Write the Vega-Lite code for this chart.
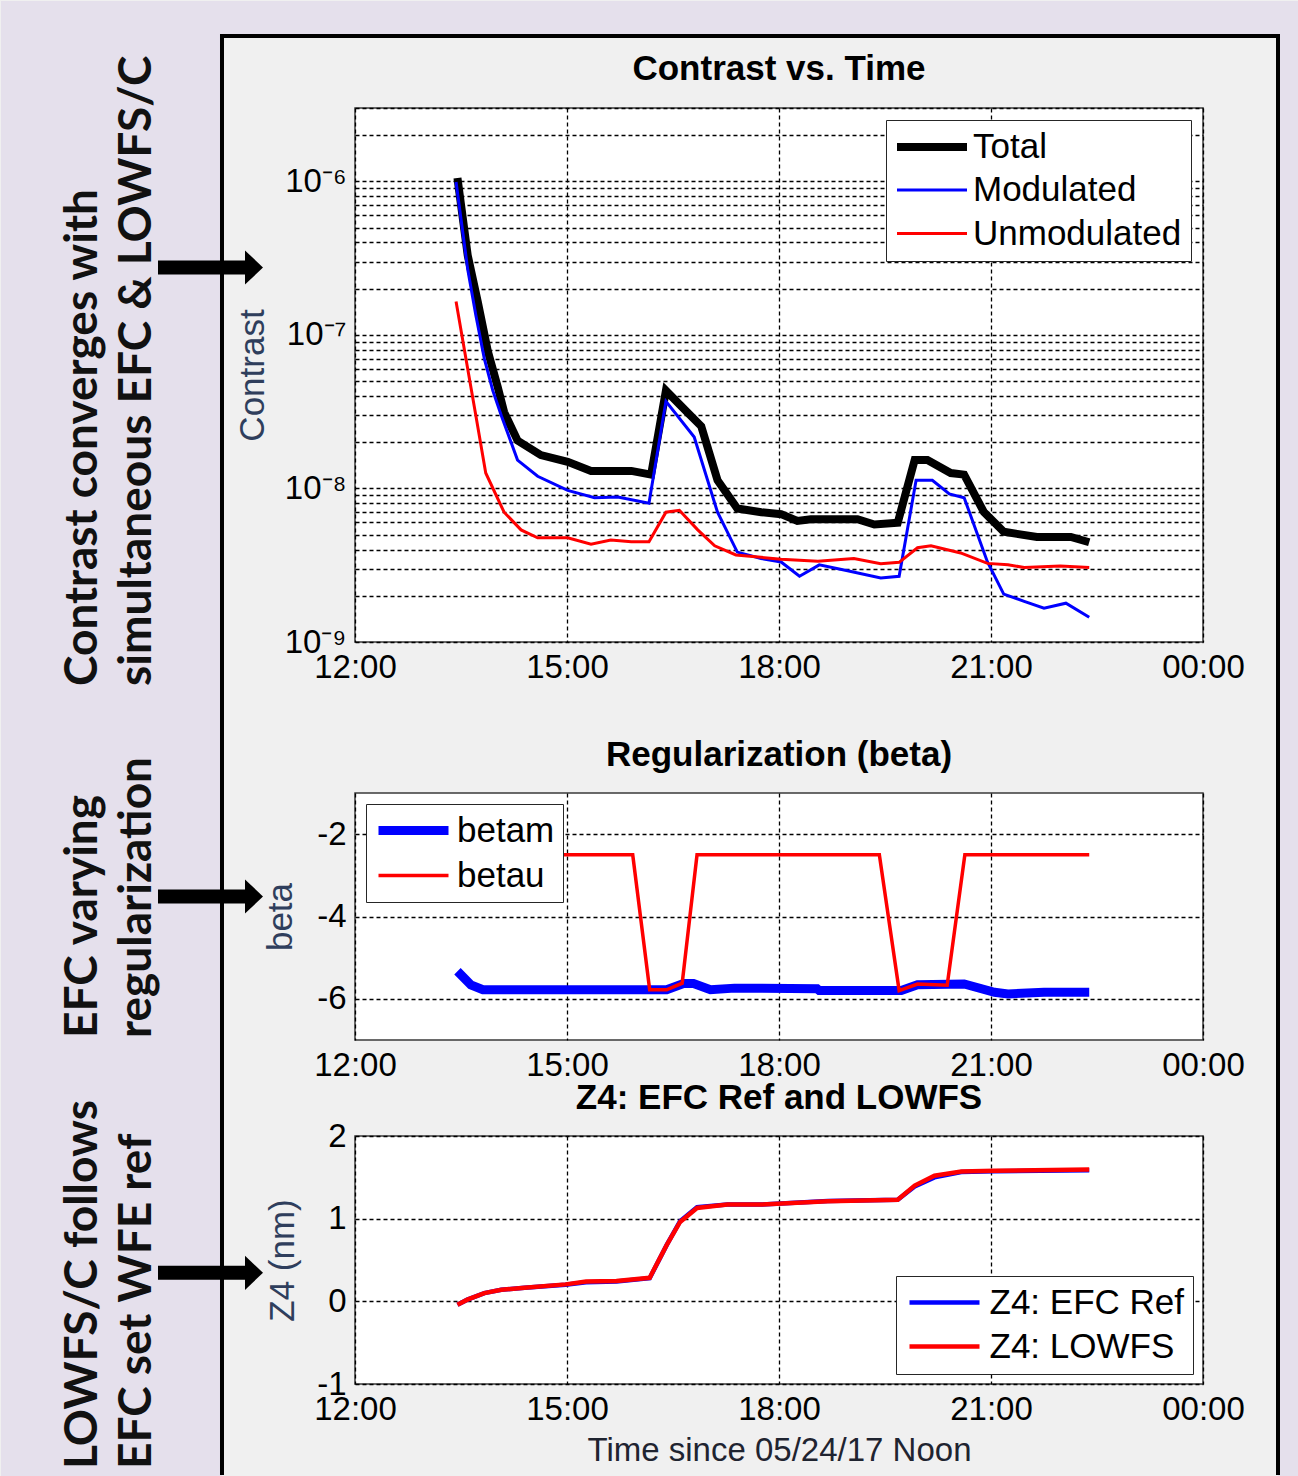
{
  "$schema": "https://vega.github.io/schema/vega-lite/v6.json",
  "background": "#F0F0F0",
  "padding": 0,
  "autosize": {"type": "pad"},
  "bounds": "flush",
  "spacing": 151,
  "resolve": {"scale": {"color": "independent", "strokeWidth": "independent"}, "legend": {"color": "independent", "strokeWidth": "independent"}},
  "config": {
    "font": "Liberation Sans",
    "view": {"fill": "#FFFFFF", "stroke": "#3a3a3a", "strokeWidth": 1.5},
    "axis": {
      "labelFont": "Liberation Sans", "labelFontSize": 33, "labelColor": "#000000", "labelPadding": 9,
      "labelFlush": false, "labelOverlap": false, "labelBound": false,
      "ticks": false, "domain": false,
      "grid": true, "gridColor": "#000000", "gridOpacity": 1, "gridDash": [4, 3], "gridWidth": 1.3,
      "titleFont": "Liberation Sans", "titleFontSize": 35, "titleFontWeight": "normal", "titleColor": "#2f3e5c", "titlePadding": 16
    }
  },
  "datasets": {
    "contrast": [
      {"h": 13.45, "v": 1.05e-6, "s": "Total"},
      {"h": 13.595, "v": 3.3e-7, "s": "Total"},
      {"h": 13.736, "v": 1.65e-7, "s": "Total"},
      {"h": 13.88, "v": 7.8e-8, "s": "Total"},
      {"h": 14.02, "v": 4.57e-8, "s": "Total"},
      {"h": 14.11, "v": 3.14e-8, "s": "Total"},
      {"h": 14.3, "v": 2.05e-8, "s": "Total"},
      {"h": 14.63, "v": 1.65e-8, "s": "Total"},
      {"h": 15.01, "v": 1.49e-8, "s": "Total"},
      {"h": 15.34, "v": 1.3e-8, "s": "Total"},
      {"h": 15.91, "v": 1.3e-8, "s": "Total"},
      {"h": 16.19, "v": 1.23e-8, "s": "Total"},
      {"h": 16.4, "v": 4.33e-8, "s": "Total"},
      {"h": 16.7, "v": 3.14e-8, "s": "Total"},
      {"h": 16.9, "v": 2.54e-8, "s": "Total"},
      {"h": 17.13, "v": 1.13e-8, "s": "Total"},
      {"h": 17.41, "v": 7.4e-9, "s": "Total"},
      {"h": 17.75, "v": 7.0e-9, "s": "Total"},
      {"h": 18.03, "v": 6.8e-9, "s": "Total"},
      {"h": 18.26, "v": 6.14e-9, "s": "Total"},
      {"h": 18.45, "v": 6.3e-9, "s": "Total"},
      {"h": 19.11, "v": 6.3e-9, "s": "Total"},
      {"h": 19.35, "v": 5.82e-9, "s": "Total"},
      {"h": 19.68, "v": 5.98e-9, "s": "Total"},
      {"h": 19.92, "v": 1.53e-8, "s": "Total"},
      {"h": 20.1, "v": 1.53e-8, "s": "Total"},
      {"h": 20.43, "v": 1.26e-8, "s": "Total"},
      {"h": 20.62, "v": 1.23e-8, "s": "Total"},
      {"h": 20.9, "v": 7.0e-9, "s": "Total"},
      {"h": 21.18, "v": 5.22e-9, "s": "Total"},
      {"h": 21.65, "v": 4.83e-9, "s": "Total"},
      {"h": 22.13, "v": 4.83e-9, "s": "Total"},
      {"h": 22.39, "v": 4.46e-9, "s": "Total"},
      {"h": 13.43, "v": 9.9e-7, "s": "Modulated"},
      {"h": 13.595, "v": 2.67e-7, "s": "Modulated"},
      {"h": 13.71, "v": 1.34e-7, "s": "Modulated"},
      {"h": 13.83, "v": 7.0e-8, "s": "Modulated"},
      {"h": 13.95, "v": 4.33e-8, "s": "Modulated"},
      {"h": 14.07, "v": 2.98e-8, "s": "Modulated"},
      {"h": 14.3, "v": 1.53e-8, "s": "Modulated"},
      {"h": 14.585, "v": 1.2e-8, "s": "Modulated"},
      {"h": 15.01, "v": 9.7e-9, "s": "Modulated"},
      {"h": 15.39, "v": 8.7e-9, "s": "Modulated"},
      {"h": 15.72, "v": 8.8e-9, "s": "Modulated"},
      {"h": 16.16, "v": 8.0e-9, "s": "Modulated"},
      {"h": 16.4, "v": 3.69e-8, "s": "Modulated"},
      {"h": 16.8, "v": 2.16e-8, "s": "Modulated"},
      {"h": 17.13, "v": 7.0e-9, "s": "Modulated"},
      {"h": 17.41, "v": 3.85e-9, "s": "Modulated"},
      {"h": 17.745, "v": 3.5e-9, "s": "Modulated"},
      {"h": 18.03, "v": 3.32e-9, "s": "Modulated"},
      {"h": 18.29, "v": 2.68e-9, "s": "Modulated"},
      {"h": 18.57, "v": 3.18e-9, "s": "Modulated"},
      {"h": 18.97, "v": 2.91e-9, "s": "Modulated"},
      {"h": 19.44, "v": 2.61e-9, "s": "Modulated"},
      {"h": 19.7, "v": 2.68e-9, "s": "Modulated"},
      {"h": 19.94, "v": 1.13e-8, "s": "Modulated"},
      {"h": 20.17, "v": 1.13e-8, "s": "Modulated"},
      {"h": 20.41, "v": 9.2e-9, "s": "Modulated"},
      {"h": 20.62, "v": 8.7e-9, "s": "Modulated"},
      {"h": 20.95, "v": 3.32e-9, "s": "Modulated"},
      {"h": 21.18, "v": 2.05e-9, "s": "Modulated"},
      {"h": 21.47, "v": 1.84e-9, "s": "Modulated"},
      {"h": 21.75, "v": 1.66e-9, "s": "Modulated"},
      {"h": 22.06, "v": 1.79e-9, "s": "Modulated"},
      {"h": 22.39, "v": 1.45e-9, "s": "Modulated"},
      {"h": 13.43, "v": 1.65e-7, "s": "Unmodulated"},
      {"h": 13.57, "v": 7.0e-8, "s": "Unmodulated"},
      {"h": 13.71, "v": 2.98e-8, "s": "Unmodulated"},
      {"h": 13.85, "v": 1.26e-8, "s": "Unmodulated"},
      {"h": 14.11, "v": 7.0e-9, "s": "Unmodulated"},
      {"h": 14.35, "v": 5.37e-9, "s": "Unmodulated"},
      {"h": 14.585, "v": 4.77e-9, "s": "Unmodulated"},
      {"h": 15.01, "v": 4.77e-9, "s": "Unmodulated"},
      {"h": 15.34, "v": 4.33e-9, "s": "Unmodulated"},
      {"h": 15.62, "v": 4.62e-9, "s": "Unmodulated"},
      {"h": 15.91, "v": 4.5e-9, "s": "Unmodulated"},
      {"h": 16.16, "v": 4.5e-9, "s": "Unmodulated"},
      {"h": 16.4, "v": 7.0e-9, "s": "Unmodulated"},
      {"h": 16.59, "v": 7.2e-9, "s": "Unmodulated"},
      {"h": 16.85, "v": 5.37e-9, "s": "Unmodulated"},
      {"h": 17.09, "v": 4.23e-9, "s": "Unmodulated"},
      {"h": 17.39, "v": 3.69e-9, "s": "Unmodulated"},
      {"h": 18.03, "v": 3.46e-9, "s": "Unmodulated"},
      {"h": 18.55, "v": 3.35e-9, "s": "Unmodulated"},
      {"h": 19.06, "v": 3.5e-9, "s": "Unmodulated"},
      {"h": 19.44, "v": 3.23e-9, "s": "Unmodulated"},
      {"h": 19.7, "v": 3.3e-9, "s": "Unmodulated"},
      {"h": 19.96, "v": 4.11e-9, "s": "Unmodulated"},
      {"h": 20.15, "v": 4.23e-9, "s": "Unmodulated"},
      {"h": 20.57, "v": 3.8e-9, "s": "Unmodulated"},
      {"h": 20.95, "v": 3.25e-9, "s": "Unmodulated"},
      {"h": 21.24, "v": 3.18e-9, "s": "Unmodulated"},
      {"h": 21.47, "v": 3.06e-9, "s": "Unmodulated"},
      {"h": 21.98, "v": 3.12e-9, "s": "Unmodulated"},
      {"h": 22.39, "v": 3.06e-9, "s": "Unmodulated"}
    ],
    "beta": [
      {"h": 13.45, "b": -5.33, "s": "betam"},
      {"h": 13.64, "b": -5.66, "s": "betam"},
      {"h": 13.81, "b": -5.78, "s": "betam"},
      {"h": 16.41, "b": -5.78, "s": "betam"},
      {"h": 16.65, "b": -5.63, "s": "betam"},
      {"h": 16.79, "b": -5.63, "s": "betam"},
      {"h": 17.03, "b": -5.78, "s": "betam"},
      {"h": 17.37, "b": -5.74, "s": "betam"},
      {"h": 18.54, "b": -5.755, "s": "betam"},
      {"h": 18.57, "b": -5.8, "s": "betam"},
      {"h": 19.73, "b": -5.8, "s": "betam"},
      {"h": 19.96, "b": -5.66, "s": "betam"},
      {"h": 20.62, "b": -5.64, "s": "betam"},
      {"h": 21.05, "b": -5.84, "s": "betam"},
      {"h": 21.24, "b": -5.88, "s": "betam"},
      {"h": 21.75, "b": -5.84, "s": "betam"},
      {"h": 22.39, "b": -5.84, "s": "betam"},
      {"h": 13.45, "b": -2.5, "s": "betau"},
      {"h": 15.93, "b": -2.5, "s": "betau"},
      {"h": 16.17, "b": -5.78, "s": "betau"},
      {"h": 16.41, "b": -5.78, "s": "betau"},
      {"h": 16.63, "b": -5.62, "s": "betau"},
      {"h": 16.84, "b": -2.5, "s": "betau"},
      {"h": 19.42, "b": -2.5, "s": "betau"},
      {"h": 19.7, "b": -5.8, "s": "betau"},
      {"h": 19.96, "b": -5.64, "s": "betau"},
      {"h": 20.38, "b": -5.67, "s": "betau"},
      {"h": 20.63, "b": -2.5, "s": "betau"},
      {"h": 22.39, "b": -2.5, "s": "betau"}
    ],
    "z4": [
      {"h": 13.45, "z": -0.04, "s": "Z4: EFC Ref"},
      {"h": 13.59, "z": 0.02, "s": "Z4: EFC Ref"},
      {"h": 13.83, "z": 0.1, "s": "Z4: EFC Ref"},
      {"h": 14.07, "z": 0.14, "s": "Z4: EFC Ref"},
      {"h": 14.4, "z": 0.165, "s": "Z4: EFC Ref"},
      {"h": 14.98, "z": 0.2, "s": "Z4: EFC Ref"},
      {"h": 15.27, "z": 0.23, "s": "Z4: EFC Ref"},
      {"h": 15.7, "z": 0.24, "s": "Z4: EFC Ref"},
      {"h": 16.17, "z": 0.28, "s": "Z4: EFC Ref"},
      {"h": 16.41, "z": 0.68, "s": "Z4: EFC Ref"},
      {"h": 16.6, "z": 0.97, "s": "Z4: EFC Ref"},
      {"h": 16.84, "z": 1.14, "s": "Z4: EFC Ref"},
      {"h": 17.27, "z": 1.17, "s": "Z4: EFC Ref"},
      {"h": 17.74, "z": 1.17, "s": "Z4: EFC Ref"},
      {"h": 18.69, "z": 1.215, "s": "Z4: EFC Ref"},
      {"h": 19.68, "z": 1.23, "s": "Z4: EFC Ref"},
      {"h": 19.92, "z": 1.39, "s": "Z4: EFC Ref"},
      {"h": 20.2, "z": 1.5, "s": "Z4: EFC Ref"},
      {"h": 20.58, "z": 1.565, "s": "Z4: EFC Ref"},
      {"h": 21.05, "z": 1.575, "s": "Z4: EFC Ref"},
      {"h": 22.39, "z": 1.585, "s": "Z4: EFC Ref"},
      {"h": 13.45, "z": -0.04, "s": "Z4: LOWFS"},
      {"h": 13.59, "z": 0.02, "s": "Z4: LOWFS"},
      {"h": 13.83, "z": 0.1, "s": "Z4: LOWFS"},
      {"h": 14.07, "z": 0.14, "s": "Z4: LOWFS"},
      {"h": 14.4, "z": 0.165, "s": "Z4: LOWFS"},
      {"h": 14.98, "z": 0.205, "s": "Z4: LOWFS"},
      {"h": 15.27, "z": 0.24, "s": "Z4: LOWFS"},
      {"h": 15.7, "z": 0.245, "s": "Z4: LOWFS"},
      {"h": 16.17, "z": 0.285, "s": "Z4: LOWFS"},
      {"h": 16.41, "z": 0.68, "s": "Z4: LOWFS"},
      {"h": 16.6, "z": 0.96, "s": "Z4: LOWFS"},
      {"h": 16.84, "z": 1.13, "s": "Z4: LOWFS"},
      {"h": 17.27, "z": 1.17, "s": "Z4: LOWFS"},
      {"h": 17.74, "z": 1.17, "s": "Z4: LOWFS"},
      {"h": 18.69, "z": 1.21, "s": "Z4: LOWFS"},
      {"h": 19.68, "z": 1.23, "s": "Z4: LOWFS"},
      {"h": 19.92, "z": 1.4, "s": "Z4: LOWFS"},
      {"h": 20.2, "z": 1.52, "s": "Z4: LOWFS"},
      {"h": 20.58, "z": 1.57, "s": "Z4: LOWFS"},
      {"h": 21.05, "z": 1.58, "s": "Z4: LOWFS"},
      {"h": 22.39, "z": 1.595, "s": "Z4: LOWFS"}
    ]
  },
  "vconcat": [
    {
      "width": 848,
      "height": 534,
      "layer": [
        {
          "data": {"values": [{}]},
          "mark": {"type": "rect", "color": "#E5E0EC"},
          "encoding": {
            "x": {"datum": 6.9906, "type": "quantitative", "scale": {"domain": [12, 24], "nice": false, "zero": false}},
            "x2": {"datum": 10.11792},
            "y": {"datum": 1.4919e-5, "type": "quantitative", "scale": {"type": "log", "domain": [1e-9, 3e-6], "nice": false}},
            "y2": {"datum": 3.66e-15}
          }
        },
        {
          "data": {"values": [{}]},
          "mark": {"type": "rect", "color": "#E5E0EC"},
          "encoding": {
            "x": {"datum": 10.11792, "type": "quantitative", "scale": {"domain": [12, 24], "nice": false, "zero": false}},
            "x2": {"datum": 25.3584},
            "y": {"datum": 1.4919e-5, "type": "quantitative", "scale": {"type": "log", "domain": [1e-9, 3e-6], "nice": false}},
            "y2": {"datum": 8.8297e-6}
          }
        },
        {
          "data": {"values": [{}]},
          "mark": {"type": "rect", "color": "#E5E0EC"},
          "encoding": {
            "x": {"datum": 25.06132, "type": "quantitative", "scale": {"domain": [12, 24], "nice": false, "zero": false}},
            "x2": {"datum": 25.3584},
            "y": {"datum": 8.8297e-6, "type": "quantitative", "scale": {"type": "log", "domain": [1e-9, 3e-6], "nice": false}},
            "y2": {"datum": 3.66e-15}
          }
        },
        {
          "data": {"values": [{}]},
          "mark": {"type": "rule", "color": "#000000", "strokeWidth": 4, "strokeCap": "square"},
          "encoding": {
            "x": {"datum": 10.11792, "type": "quantitative", "scale": {"domain": [12, 24], "nice": false, "zero": false}},
            "y": {"datum": 8.8297e-6, "type": "quantitative", "scale": {"type": "log", "domain": [1e-9, 3e-6], "nice": false}},
            "y2": {"datum": 3.8815e-15}
          }
        },
        {
          "data": {"values": [{}]},
          "mark": {"type": "rule", "color": "#000000", "strokeWidth": 4, "strokeCap": "square"},
          "encoding": {
            "x": {"datum": 10.11792, "type": "quantitative", "scale": {"domain": [12, 24], "nice": false, "zero": false}},
            "x2": {"datum": 25.06132},
            "y": {"datum": 8.8297e-6, "type": "quantitative", "scale": {"type": "log", "domain": [1e-9, 3e-6], "nice": false}}
          }
        },
        {
          "data": {"values": [{}]},
          "mark": {"type": "rule", "color": "#000000", "strokeWidth": 4, "strokeCap": "square"},
          "encoding": {
            "x": {"datum": 25.06132, "type": "quantitative", "scale": {"domain": [12, 24], "nice": false, "zero": false}},
            "y": {"datum": 8.8297e-6, "type": "quantitative", "scale": {"type": "log", "domain": [1e-9, 3e-6], "nice": false}},
            "y2": {"datum": 3.8815e-15}
          }
        },
        {
          "data": {"values": [{}]},
          "mark": {"type": "text", "align": "center", "baseline": "alphabetic", "font": "Liberation Sans", "fontWeight": "bold", "fontSize": 35, "color": "#000000", "text": "Contrast vs. Time"},
          "encoding": {
            "x": {"datum": 18, "type": "quantitative", "scale": {"domain": [12, 24], "nice": false, "zero": false}},
            "y": {"datum": 4.5625e-6, "type": "quantitative", "scale": {"type": "log", "domain": [1e-9, 3e-6], "nice": false}}
          }
        },
        {
          "data": {"values": [{}]},
          "mark": {"type": "text", "angle": 270, "align": "left", "baseline": "alphabetic", "font": "Lato", "fontWeight": "bold", "fontSize": 46, "lineHeight": 54, "color": "#111111", "text": ["Contrast converges with", "simultaneous EFC & LOWFS/C"]},
          "encoding": {
            "x": {"datum": 8.34906, "type": "quantitative", "scale": {"domain": [12, 24], "nice": false, "zero": false}},
            "y": {"datum": 5.1705e-10, "type": "quantitative", "scale": {"type": "log", "domain": [1e-9, 3e-6], "nice": false}}
          }
        },
        {
          "data": {"values": [{}]},
          "mark": {"type": "rule", "color": "#000000", "strokeWidth": 14},
          "encoding": {
            "x": {"datum": 9.21226, "type": "quantitative", "scale": {"domain": [12, 24], "nice": false, "zero": false}},
            "x2": {"datum": 10.48585},
            "y": {"datum": 2.7452e-7, "type": "quantitative", "scale": {"type": "log", "domain": [1e-9, 3e-6], "nice": false}}
          }
        },
        {
          "data": {"values": [{}]},
          "mark": {"type": "point", "shape": "M-1,-1.9L1,0L-1,1.9Z", "filled": true, "color": "#000000", "opacity": 1, "size": 324},
          "encoding": {
            "x": {"datum": 10.57075, "type": "quantitative", "scale": {"domain": [12, 24], "nice": false, "zero": false}},
            "y": {"datum": 2.7452e-7, "type": "quantitative", "scale": {"type": "log", "domain": [1e-9, 3e-6], "nice": false}}
          }
        },
        {
          "data": {"name": "contrast"},
          "mark": {"type": "line"},
          "encoding": {
            "x": {"field": "h", "type": "quantitative", "scale": {"domain": [12, 24], "nice": false, "zero": false},
              "axis": {"values": [12, 15, 18, 21, 24], "labelExpr": "(datum.value % 24 < 10 ? '0' : '') + (datum.value % 24) + ':00'", "title": null}},
            "y": {"field": "v", "type": "quantitative", "scale": {"type": "log", "domain": [1e-9, 3e-6], "nice": false},
              "axis": {"title": "Contrast", "titlePadding": 14,
                "values": [1e-9, 2e-9, 3e-9, 4e-9, 5e-9, 6e-9, 7e-9, 8e-9, 9e-9, 1e-8, 2e-8, 3e-8, 4e-8, 5e-8, 6e-8, 7e-8, 8e-8, 9e-8, 1e-7, 2e-7, 3e-7, 4e-7, 5e-7, 6e-7, 7e-7, 8e-7, 9e-7, 1e-6, 2e-6, 3e-6],
                "labelExpr": "abs(log(datum.value)/LN10 - round(log(datum.value)/LN10)) < 0.01 ? (round(log(datum.value)/LN10) == -9 ? '10⁻⁹' : round(log(datum.value)/LN10) == -8 ? '10⁻⁸' : round(log(datum.value)/LN10) == -7 ? '10⁻⁷' : '10⁻⁶') : ''"}},
            "color": {"field": "s", "type": "nominal",
              "scale": {"domain": ["Total", "Modulated", "Unmodulated"], "range": ["#000000", "#0000FF", "#FF0000"]},
              "legend": {"orient": "top-right", "offset": 12, "title": null, "padding": 9, "rowPadding": 7.5, "symbolType": "M-1,0L4,0", "symbolSize": 784, "symbolOffset": -2, "labelOffset": 44, "labelFontSize": 35, "labelFont": "Liberation Sans", "labelColor": "#000000", "labelLimit": 400, "strokeColor": "#262626", "fillColor": "#FFFFFF"}},
            "strokeWidth": {"field": "s", "type": "nominal",
              "scale": {"type": "ordinal", "domain": ["Total", "Modulated", "Unmodulated"], "range": [8, 3, 3]},
              "legend": {"orient": "top-right", "offset": 12, "title": null, "padding": 9, "rowPadding": 7.5, "symbolType": "M-1,0L4,0", "symbolSize": 784, "symbolOffset": -2, "labelOffset": 44, "labelFontSize": 35, "labelFont": "Liberation Sans", "labelColor": "#000000", "labelLimit": 400, "strokeColor": "#262626", "fillColor": "#FFFFFF"}}
          }
        }
      ]
    },
    {
      "bounds": "flush",
      "spacing": 96,
      "resolve": {"scale": {"color": "independent", "strokeWidth": "independent"}, "legend": {"color": "independent", "strokeWidth": "independent"}},
      "vconcat": [
        {
          "width": 848,
          "height": 247,
          "layer": [
            {
              "data": {"values": [{}]},
              "mark": {"type": "text", "align": "center", "baseline": "alphabetic", "font": "Liberation Sans", "fontWeight": "bold", "fontSize": 35, "color": "#000000", "text": "Regularization (beta)"},
              "encoding": {
                "x": {"datum": 18, "type": "quantitative", "scale": {"domain": [12, 24], "nice": false, "zero": false}},
                "y": {"datum": -0.34413, "type": "quantitative", "scale": {"domain": [-7, -1], "nice": false, "zero": false}}
              }
            },
            {
              "data": {"values": [{}]},
              "mark": {"type": "text", "angle": 270, "align": "left", "baseline": "alphabetic", "font": "Lato", "fontWeight": "bold", "fontSize": 46, "lineHeight": 54, "color": "#111111", "text": ["EFC varying", "regularization"]},
              "encoding": {
                "x": {"datum": 8.34906, "type": "quantitative", "scale": {"domain": [12, 24], "nice": false, "zero": false}},
                "y": {"datum": -6.95142, "type": "quantitative", "scale": {"domain": [-7, -1], "nice": false, "zero": false}}
              }
            },
            {
              "data": {"values": [{}]},
              "mark": {"type": "rule", "color": "#000000", "strokeWidth": 14},
              "encoding": {
                "x": {"datum": 9.21226, "type": "quantitative", "scale": {"domain": [12, 24], "nice": false, "zero": false}},
                "x2": {"datum": 10.48585},
                "y": {"datum": -3.51417, "type": "quantitative", "scale": {"domain": [-7, -1], "nice": false, "zero": false}}
              }
            },
            {
              "data": {"values": [{}]},
              "mark": {"type": "point", "shape": "M-1,-1.9L1,0L-1,1.9Z", "filled": true, "color": "#000000", "opacity": 1, "size": 324},
              "encoding": {
                "x": {"datum": 10.57075, "type": "quantitative", "scale": {"domain": [12, 24], "nice": false, "zero": false}},
                "y": {"datum": -3.51417, "type": "quantitative", "scale": {"domain": [-7, -1], "nice": false, "zero": false}}
              }
            },
            {
              "data": {"name": "beta"},
              "mark": {"type": "line"},
              "encoding": {
                "x": {"field": "h", "type": "quantitative", "scale": {"domain": [12, 24], "nice": false, "zero": false},
                  "axis": {"values": [12, 15, 18, 21, 24], "labelExpr": "(datum.value % 24 < 10 ? '0' : '') + (datum.value % 24) + ':00'", "title": null}},
                "y": {"field": "b", "type": "quantitative", "scale": {"domain": [-7, -1], "nice": false, "zero": false},
                  "axis": {"title": "beta", "values": [-6, -4, -2], "labelExpr": "'' + datum.value", "titlePadding": 18}},
                "color": {"field": "s", "type": "nominal",
                  "scale": {"domain": ["betam", "betau"], "range": ["#0000FF", "#FF0000"]},
                  "legend": {"orient": "top-left", "offset": 11, "title": null, "padding": 8, "rowPadding": 9, "symbolType": "M-1,0L4,0", "symbolSize": 784, "symbolOffset": 0, "labelOffset": 46, "labelFontSize": 35, "labelFont": "Liberation Sans", "labelColor": "#000000", "labelLimit": 400, "strokeColor": "#262626", "fillColor": "#FFFFFF"}},
                "strokeWidth": {"field": "s", "type": "nominal",
                  "scale": {"type": "ordinal", "domain": ["betam", "betau"], "range": [9, 3.5]},
                  "legend": {"orient": "top-left", "offset": 11, "title": null, "padding": 8, "rowPadding": 9, "symbolType": "M-1,0L4,0", "symbolSize": 784, "symbolOffset": 0, "labelOffset": 46, "labelFontSize": 35, "labelFont": "Liberation Sans", "labelColor": "#000000", "labelLimit": 400, "strokeColor": "#262626", "fillColor": "#FFFFFF"}}
              }
            }
          ]
        },
        {
          "width": 848,
          "height": 248,
          "layer": [
            {
              "data": {"values": [{}]},
              "mark": {"type": "text", "align": "center", "baseline": "alphabetic", "font": "Liberation Sans", "fontWeight": "bold", "fontSize": 35, "color": "#000000", "text": "Z4: EFC Ref and LOWFS"},
              "encoding": {
                "x": {"datum": 18, "type": "quantitative", "scale": {"domain": [12, 24], "nice": false, "zero": false}},
                "y": {"datum": 2.32661, "type": "quantitative", "scale": {"domain": [-1, 2], "nice": false, "zero": false}}
              }
            },
            {
              "data": {"values": [{}]},
              "mark": {"type": "text", "angle": 270, "align": "left", "baseline": "alphabetic", "font": "Lato", "fontWeight": "bold", "fontSize": 46, "lineHeight": 54, "color": "#111111", "text": ["LOWFS/C follows", "EFC set WFE ref"]},
              "encoding": {
                "x": {"datum": 8.34906, "type": "quantitative", "scale": {"domain": [12, 24], "nice": false, "zero": false}},
                "y": {"datum": -2.02823, "type": "quantitative", "scale": {"domain": [-1, 2], "nice": false, "zero": false}}
              }
            },
            {
              "data": {"values": [{}]},
              "mark": {"type": "rule", "color": "#000000", "strokeWidth": 14},
              "encoding": {
                "x": {"datum": 9.21226, "type": "quantitative", "scale": {"domain": [12, 24], "nice": false, "zero": false}},
                "x2": {"datum": 10.48585},
                "y": {"datum": 0.34516, "type": "quantitative", "scale": {"domain": [-1, 2], "nice": false, "zero": false}}
              }
            },
            {
              "data": {"values": [{}]},
              "mark": {"type": "point", "shape": "M-1,-1.9L1,0L-1,1.9Z", "filled": true, "color": "#000000", "opacity": 1, "size": 324},
              "encoding": {
                "x": {"datum": 10.57075, "type": "quantitative", "scale": {"domain": [12, 24], "nice": false, "zero": false}},
                "y": {"datum": 0.34516, "type": "quantitative", "scale": {"domain": [-1, 2], "nice": false, "zero": false}}
              }
            },
            {
              "data": {"name": "z4"},
              "mark": {"type": "line"},
              "encoding": {
                "x": {"field": "h", "type": "quantitative", "scale": {"domain": [12, 24], "nice": false, "zero": false},
                  "axis": {"values": [12, 15, 18, 21, 24], "labelExpr": "(datum.value % 24 < 10 ? '0' : '') + (datum.value % 24) + ':00'", "title": "Time since 05/24/17 Noon", "titleFontSize": 33, "titleColor": "#1f2430", "titlePadding": 8}},
                "y": {"field": "z", "type": "quantitative", "scale": {"domain": [-1, 2], "nice": false, "zero": false},
                  "axis": {"title": "Z4 (nm)", "values": [-1, 0, 1, 2], "labelExpr": "'' + datum.value", "titlePadding": 16}},
                "color": {"field": "s", "type": "nominal",
                  "scale": {"domain": ["Z4: EFC Ref", "Z4: LOWFS"], "range": ["#0000FF", "#FF0000"]},
                  "legend": {"orient": "bottom-right", "offset": 10, "title": null, "padding": 9, "rowPadding": 8, "symbolType": "M-1,0L4,0", "symbolSize": 784, "symbolOffset": 1, "labelOffset": 48.5, "labelFontSize": 35, "labelFont": "Liberation Sans", "labelColor": "#000000", "labelLimit": 400, "strokeColor": "#262626", "fillColor": "#FFFFFF"}},
                "strokeWidth": {"field": "s", "type": "nominal",
                  "scale": {"type": "ordinal", "domain": ["Z4: EFC Ref", "Z4: LOWFS"], "range": [4.5, 4.5]},
                  "legend": {"orient": "bottom-right", "offset": 10, "title": null, "padding": 9, "rowPadding": 8, "symbolType": "M-1,0L4,0", "symbolSize": 784, "symbolOffset": 1, "labelOffset": 48.5, "labelFontSize": 35, "labelFont": "Liberation Sans", "labelColor": "#000000", "labelLimit": 400, "strokeColor": "#262626", "fillColor": "#FFFFFF"}}
              }
            }
          ]
        }
      ]
    }
  ]
}
